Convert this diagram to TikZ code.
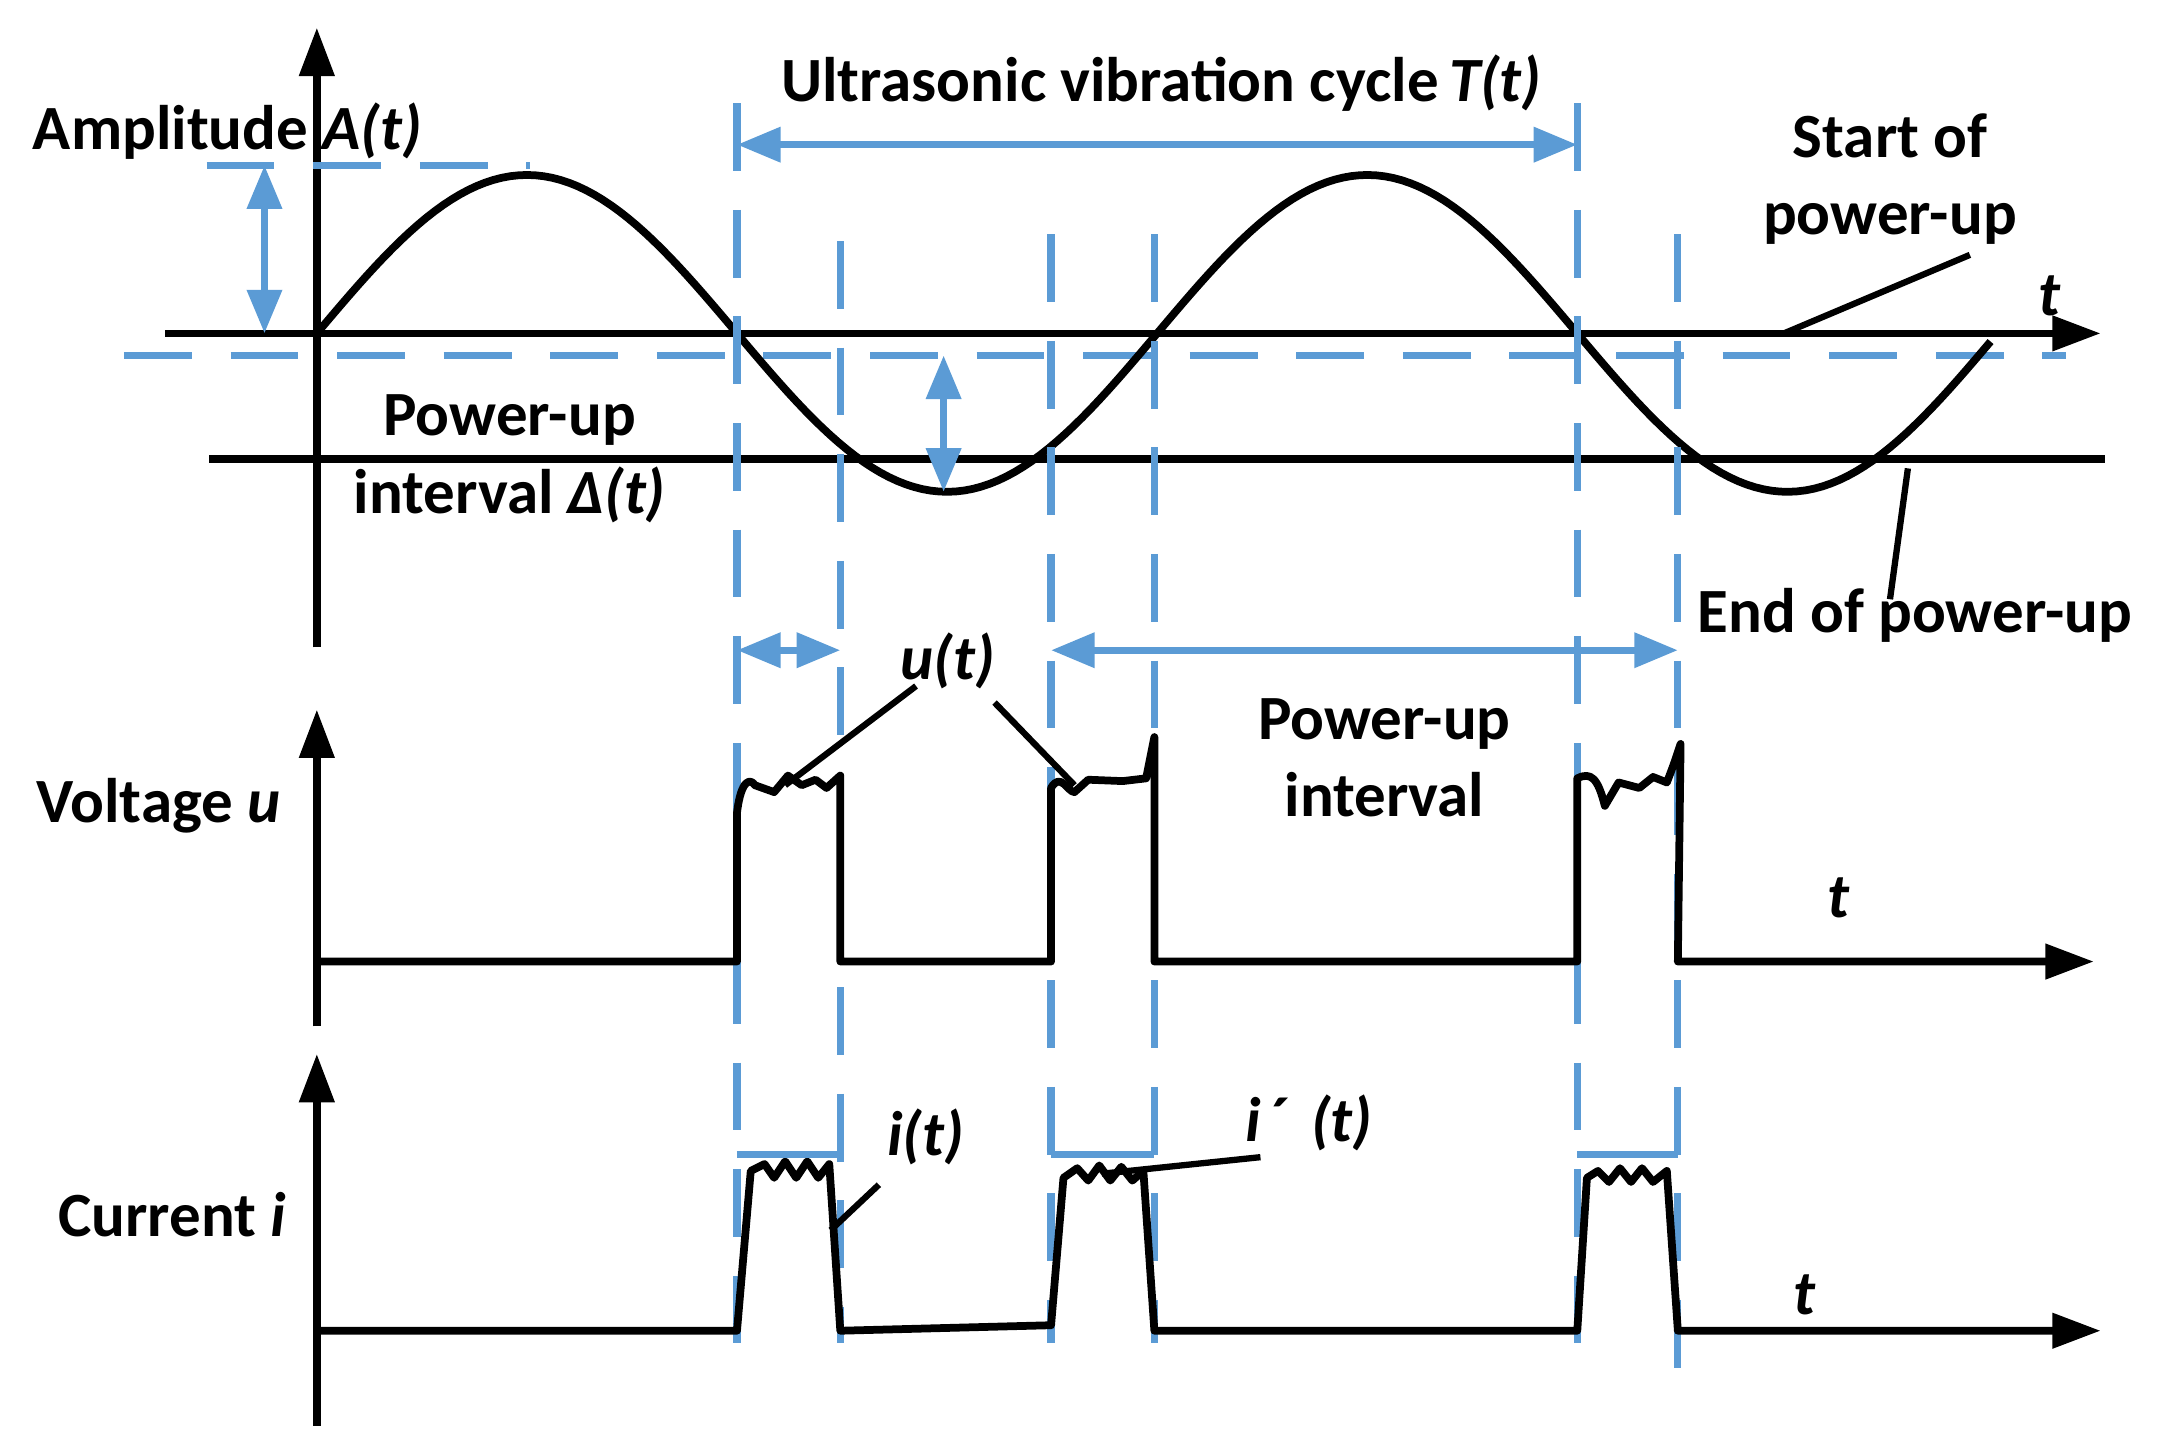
\documentclass[tikz,border=0pt]{standalone}
\usepackage{fontspec}
\setmainfont{Carlito}
\usetikzlibrary{arrows.meta}
\definecolor{bl}{RGB}{91,155,213}
\begin{document}
\begin{tikzpicture}[x=0.01cm,y=-0.01cm,
  ax/.style={line width=1.6pt,-{Triangle[length=10pt,width=7pt]}},
  ln/.style={line width=1.6pt},
  bd/.style={bl,line width=1.5pt,dash pattern=on 14pt off 8pt},
  ba/.style={bl,line width=1.5pt,{Triangle[length=9pt,width=7pt]}-{Triangle[length=9pt,width=7pt]}},
  lab/.style={font=\fontsize{13}{16}\selectfont\bfseries,align=center},
  sig/.style={line width=1.6pt,line join=round}]
\useasboundingbox (0,0) rectangle (1568,1056);
% top axes
\coordinate (o1) at (230,470); \coordinate (o1t) at (230,20);
\draw[ax] (o1) -- (o1t);
\coordinate (h1a) at (120,242); \coordinate (h1b) at (1525,242);
\draw[ax] (h1a) -- (h1b);
\coordinate (h2a) at (152,333); \coordinate (h2b) at (1528,333);
\draw[ln] (h2a) -- (h2b);
\coordinate (d1a) at (90,258); \coordinate (d1b) at (1500,258);
\draw[bd] (d1a) -- (d1b);
\coordinate (d2a) at (150,120); \coordinate (d2b) at (385,120);
\draw[bd] (d2a) -- (d2b);
\draw[sig,domain=230:1445,samples=200] plot (\x,{242-115*sin(0.590164*(\x-230))});
% blue verticals
\foreach \x/\a/\b in {535/75/1000,610/175/975,838/170/975,1145/75/1000,1218/170/1000}{
  \draw[bd] (\x,\a) -- (\x,\b);}
\coordinate (s1) at (763,170); \coordinate (s2) at (763,975);
\draw[bd] (s1) -- (s2);
% blue arrows
\coordinate (a1) at (192,120); \coordinate (a2) at (192,242);
\draw[ba] (a1) -- (a2);
\coordinate (a3) at (685,258); \coordinate (a4) at (685,357);
\draw[ba] (a3) -- (a4);
\coordinate (t1) at (535,105); \coordinate (t2) at (1145,105);
\draw[ba] (t1) -- (t2);
\coordinate (p1) at (535,472); \coordinate (p2) at (610,472);
\draw[ba] (p1) -- (p2);
\coordinate (p3) at (763,472); \coordinate (p4) at (1218,472);
\draw[ba] (p3) -- (p4);
% labels top
\node[lab] (amp) at (165,95) {Amplitude \textit{A(t)}};
\node[lab] (cyc) at (843,60) {Ultrasonic vibration cycle\,\textit{T(t)}};
\node[lab] (t1l) at (1488,215) {\textit{t}};
\node[lab] (sop) at (1372,130) {Start of\\power-up};
\node[lab] (pui) at (370,333) {Power-up\\interval \textit{Δ(t)}};
\node[lab] (eop) at (1390,447) {End of power-up};
\node[lab] (pui2) at (1005,550) {Power-up\\interval};
\coordinate (l1a) at (1295,242); \coordinate (l1b) at (1430,185);
\draw[line width=1.3pt] (l1a) -- (l1b);
\coordinate (l2a) at (1385,340); \coordinate (l2b) at (1372,435);
\draw[line width=1.3pt] (l2a) -- (l2b);
% voltage
\coordinate (o2) at (230,745); \coordinate (o2t) at (230,515);
\draw[ax] (o2) -- (o2t);
\node[lab] (vl) at (115,585) {Voltage \textit{u}};
\node[lab] (tv) at (1335,652) {\textit{t}};
\coordinate (v0) at (230,698); \coordinate (vend) at (1520,698);
\draw[sig,-{Triangle[length=10pt,width=7pt]}] (v0) -- (535,698) -- (535,590)
  .. controls (538,565) and (545,565) .. (548,570) -- (562,575) -- (572,563) -- (582,570) -- (592,566) -- (600,572) -- (610,563) -- (610,698)
  -- (763,698) -- (763,572) .. controls (770,560) and (775,575) .. (780,575) -- (790,566) -- (815,567) -- (832,565) .. controls (836,545) .. (838,535) -- (838,698)
  -- (1145,698) -- (1145,565) .. controls (1155,560) and (1160,565) .. (1165,585) -- (1175,568) -- (1190,572) -- (1200,564) -- (1210,568) .. controls (1215,555) .. (1220,540) -- (1218,698) -- (vend);
\node[lab] (ul) at (688,480) {\textit{u(t)}};
\coordinate (u1a) at (665,498); \coordinate (u1b) at (570,570);
\draw[line width=1.3pt] (u1a) -- (u1b);
\coordinate (u2a) at (722,510); \coordinate (u2b) at (780,570);
\draw[line width=1.3pt] (u2a) -- (u2b);
% current
\coordinate (o3) at (230,1035); \coordinate (o3t) at (230,765);
\draw[ax] (o3) -- (o3t);
\node[lab] (cl) at (125,882) {Current \textit{i}};
\node[lab] (tc) at (1310,940) {\textit{t}};
\coordinate (c0) at (230,966); \coordinate (cend) at (1525,966);
\draw[sig,-{Triangle[length=10pt,width=7pt]}] (c0) -- (535,966) -- (545,850) -- (555,845) -- (562,855) -- (570,843) -- (578,855) -- (586,843) -- (594,855) -- (602,845) -- (610,966)
  -- (763,962) -- (772,855) -- (782,848) -- (790,857) -- (798,846) -- (806,857) -- (814,847) -- (822,857) -- (830,850) -- (838,966)
  -- (1145,966) -- (1152,855) -- (1160,850) -- (1168,858) -- (1176,848) -- (1184,858) -- (1192,848) -- (1200,858) -- (1210,850) -- (1218,966) -- (cend);
\foreach \a/\b in {535/610,763/838,1145/1218}{
  \draw[bl,line width=1.5pt] (\a,838) -- (\b,838);}
\node[lab] (il) at (672,825) {\textit{i(t)}};
\node[lab] (ipl) at (950,815) {\textit{i}\,´\,\,\textit{(t)}};
\coordinate (i1a) at (638,860); \coordinate (i1b) at (603,893);
\draw[line width=1.3pt] (i1a) -- (i1b);
\coordinate (i2a) at (915,840); \coordinate (i2b) at (800,852);
\draw[line width=1.3pt] (i2a) -- (i2b);
\end{tikzpicture}
\end{document}
